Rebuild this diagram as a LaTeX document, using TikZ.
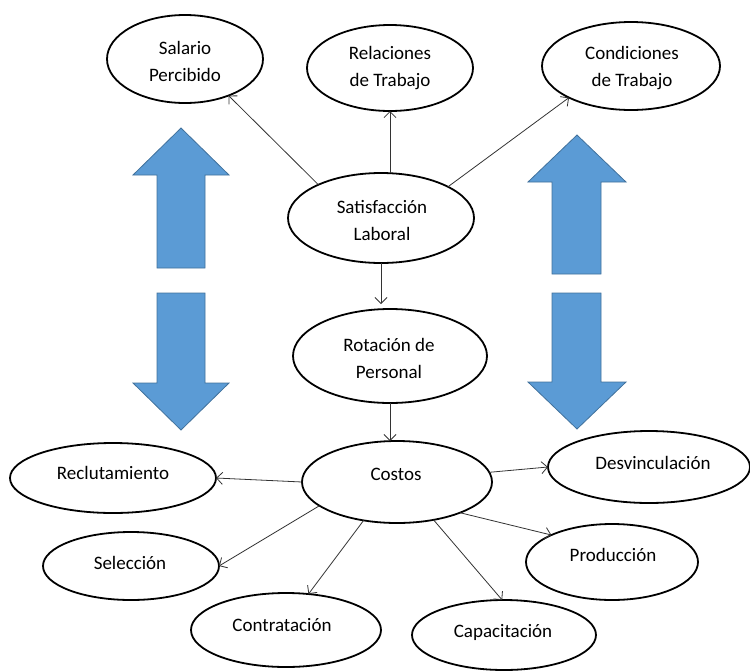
\documentclass[tikz,border=0pt]{standalone}
\usepackage{fontspec}
\setmainfont{Carlito}
\usetikzlibrary{arrows.meta,shapes.geometric}
\definecolor{bluefill}{HTML}{5B9BD5}
\definecolor{blueedge}{HTML}{41719C}
\definecolor{linegray}{HTML}{333333}
\tikzset{
  ell/.style={ellipse, draw=black, line width=1.8pt, inner sep=0pt, outer sep=0pt},
  txt/.style={font=\fontsize{19}{27}\selectfont, align=center, text=black, inner sep=0pt},
  conn/.style={draw=linegray, line width=0.8pt, -{Straight Barb[length=6pt,width=12pt]}},
  bigarrow/.style={fill=bluefill, draw=blueedge, line width=0.8pt, line join=miter}
}
\begin{document}
\begin{tikzpicture}[x=1pt,y=-1pt]
\useasboundingbox (0,0) rectangle (750,670);
% blue arrows
\filldraw[bigarrow] (181,128) -- (229,175) -- (205,175) -- (205,268) -- (157,268) -- (157,175) -- (133,175) -- cycle;
\filldraw[bigarrow] (157,293) -- (205,293) -- (205,383) -- (229,383) -- (181,430) -- (133,383) -- (157,383) -- cycle;
\filldraw[bigarrow] (577,135) -- (626,182) -- (601,182) -- (601,274) -- (552,274) -- (552,182) -- (528,182) -- cycle;
\filldraw[bigarrow] (552,293) -- (601,293) -- (601,382) -- (626,382) -- (577,429) -- (528,382) -- (552,382) -- cycle;
% ellipses
\node[ell, minimum width=156, minimum height=88] (sal) at (185,59) {};
\node[ell, minimum width=166, minimum height=86] (rel) at (390,68) {};
\node[ell, minimum width=178, minimum height=88] (cond) at (631,66) {};
\node[ell, minimum width=186, minimum height=90] (sat) at (381,218) {};
\node[ell, minimum width=194, minimum height=94] (rot) at (390,356) {};
\node[ell, minimum width=190, minimum height=82] (cost) at (397,482) {};
\node[ell, minimum width=206, minimum height=70] (rec) at (113,478) {};
\node[ell, minimum width=176, minimum height=68] (sel) at (131,566) {};
\node[ell, minimum width=190, minimum height=74] (contr) at (286,630) {};
\node[ell, minimum width=184, minimum height=70] (cap) at (504,635) {};
\node[ell, minimum width=172, minimum height=76] (prod) at (612,562) {};
\node[ell, minimum width=202, minimum height=72] (des) at (649,467) {};
% texts
\node[txt] (salT) at (185,61) {Salario\\Percibido};
\node[txt] (relT) at (390,68) {Relaciones\\de Trabajo};
\node[txt] (condT) at (632,68) {Condiciones\\de Trabajo};
\node[txt] (satT) at (382,220) {Satisfacción\\Laboral};
\node[txt] (rotT) at (389,358) {Rotación de\\Personal};
\node[txt] (costT) at (396,474) {Costos};
\node[txt] (recT) at (113,473) {Reclutamiento};
\node[txt] (selT) at (130,563) {Selección};
\node[txt] (contrT) at (282,625) {Contratación};
\node[txt] (capT) at (503,632) {Capacitación};
\node[txt] (prodT) at (613,555) {Producción};
\node[txt] (desT) at (653,463) {Desvinculación};
% connectors
\draw[conn] (sat.152) -- (sal.320);
\draw[conn] (rel.south |- sat.north) -- (rel.south);
\draw[conn] (sat.25) -- (cond.207);
\draw[conn] (sat.south) -- ([yshift=5pt]sat.south |- rot.north);
\draw[conn] (rot.south) -- (rot.south |- cost.north);
\draw[conn] (cost.west) -- (rec.east);
\draw[conn] (cost.197) -- (sel.east);
\draw[conn] (cost.229) -- (contr.58);
\draw[conn] (cost.314) -- (cap.93);
\draw[conn] (cost.334) -- (prod.156);
\draw[conn] (cost.6) -- (des.west);
\end{tikzpicture}
\end{document}
